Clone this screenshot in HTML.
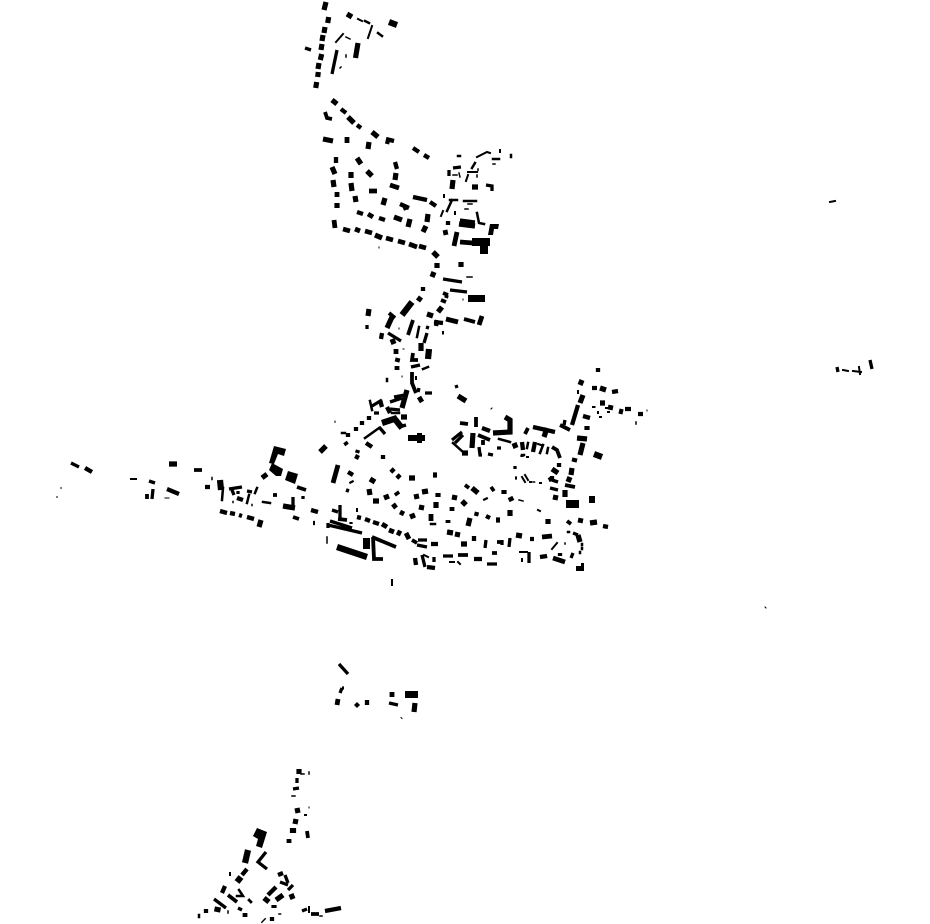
<!DOCTYPE html>
<html><head><meta charset="utf-8"><style>html,body{margin:0;padding:0;background:#fff;width:930px;height:924px;overflow:hidden}svg{display:block}path{fill:none;stroke:#000}.c{stroke-linecap:square}.f{fill:#000;stroke:none}</style></head><body>
<svg xmlns="http://www.w3.org/2000/svg" width="930" height="924" viewBox="0 0 930 924">
<path class="c" stroke-width="1" d="M61 487.500v1M57 496.500v1M765 607l1 1M165 498h4M401 717.500l1 1M335 421v1.500M492 408l-1 1M379 247v1M463 299v1M403 349h1M402 376v1M399 328v1M647 410v1M309 807v1"/>
<path class="c" stroke-width="1.500" d="M346 37L350 39M346 55v2M340 68l1-1M453 175L457 175M459 173L460 177M465 209L468 209M493 164h2M478 169v1.500M467 277L472 277M477 175v2M327 537L327 543M565 543v1M519 500L523 501M533 482h1.500M301 774L304 774M309 772v2M292 796L295 796M228 911v2M320 916h2M279 914h1.500M468 204l4 0M636 422v2M252 504.500v1M233 501.500v1M212 477.500v2"/>
<path class="c" stroke-width="2" d="M358 19L362 21M372 26L368 38M343 34L336 42M477 157L487 152L490 153M500 150v2M468 172L477 172M468 175L466 181M441 216L443 211M455 212v2M444 195v2M416 377L416 379M392 580L392 585M830 202L835 201M843 370L848 371M853 371L861 372M859 367L860 374M520 552L527 552M522 559v2M538 510L540 511M525 475L528 480M522 477L525 482M530 482h1M540 483h1M527 457h1M538 444L541 445M424 555L428 557M450 562L454 562M458 562L460 564M557 543L552 549M131 479L136 479M309 907L309 912M230 873v2M305 815l1 0M357 509v2M578 391v2M593 407h1.500M598 412v1M608 412h1M600 417h1M606 408h1.500M443 332v1.500"/>
<path class="c" stroke-width="2.500" d="M365 21L369 23M378 33L382 36M493 159L499 159M475 163L472 168M450 200L457 200M464 201L476 201M452 200L447 211M477 213L479 223L484 224M458 156l2 0M511 155v2M419 327L417 337M423 369L428 367M387 379L387 381M342 433h3M499 439L510 442M543 445L540 453M548 448L547 453M453 443L463 452M431 524L435 524M370 401L372 410M392 413L399 413M365 438L379 428M263 502L270 503M223 488L222 500M257 488L255 493M249 495L247 503M199 915v2M239 890L243 896L237 896M568 532h1M582 544v1M582 548v1M580 552v1M522 455h2M528 443L527 448"/>
<path stroke-width="3.300" d="M305 48L311 50M337 50L332 74M453 168L461 167M449 170L449 176M486 185L492 186L492 191M460 220L475 222M450 290L467 292M443 279L462 282M367 325L367 329M426 327L429 328M427 333L424 343M388 333L401 341M411 367L420 365M419 388L418 392M425 393L432 393M456 385L457 388M372 406L382 400M390 402L402 398M394 397L405 395M374 413L379 413M390 409L400 410M379 427L385 434M399 427L406 425M332 510L338 512M340 505L340 518M328 525L362 533M330 521L352 528M328 523L328 528M422 555L425 567M434 557L434 562M443 556L453 556M564 425L565 420M462 432L452 440M463 435L455 443M479 447L480 455L482 455M488 454L493 455M497 448L501 448M486 540L485 548M502 540L502 545M510 538L509 547M529 552L529 563M487 564L497 564M550 488L558 490M552 480L558 482M573 533L578 535M573 553L571 558M545 555L546 558M418 540L427 540M417 545L427 547M71 463L79 467M149 481L155 483M153 489L152 499M232 490L234 495M229 489L242 487M247 491L252 492M293 497L293 507M303 496v3M339 664L348 674M342 688L340 693M344 688l-2 0M389 703L398 705M297 778L297 783M293 789L299 788M266 852L258 862L267 869M214 899L226 908M238 908L242 910M285 875L288 883M280 882L288 885M293 885L288 890M307 909L302 911M837 367L838 372M870 360L872 369M351 522v2M238 491v3M515 466v3M515 478h2M522 455v2"/>
<path stroke-width="3.800" d="M325 112L327 118L332 119M443 293L448 295M447 295L446 298M441 300L446 302M464 319L475 322M413 320L408 335M389 313L395 318M413 353L412 360L418 360M412 372L412 383L416 393M476 417L476 427M460 423L468 424M478 435L490 440M483 440L483 445M528 428L525 434M346 490L349 491M338 519L347 520M372 537L396 547M373 537L374 559L383 559M412 540L417 543M458 555L468 555M560 425L570 430M565 485L575 487M567 521L571 524M465 485L469 488M497 542L501 542M492 553L497 553M552 447L557 450L560 458M194 470L202 470M273 495L277 495M297 487L306 490M293 517L299 519M147 494L147 499M228 895L237 902M307 831L308 838M311 914L319 914"/>
<path stroke-width="4.300" d="M341 109L346 113M357 125L361 128M386 139L394 141M388 140L387 144M413 148L419 152M424 155L429 158M336 157L336 163M395 162L397 169M400 204L409 208M404 205L406 210M413 197L427 200M430 202L436 206M357 212L363 214M379 218L385 220M448 221L448 225M423 287L423 291M434 322L443 323M437 320L436 326M382 333L381 339M387 407L390 413M380 400L382 407M366 443L372 447M358 450L357 453M358 455L356 459M383 455L383 459M348 472L353 475M362 421v4M369 416v4M356 427v4M348 433v4M345 442L347 445M357 517L361 518M365 519L370 521M373 522L379 524M431 544L438 544M474 559L482 559M415 558L416 565M427 567L435 568M598 368L598 372M592 388L597 388M612 392L618 391M578 405L572 425M583 416L590 418M625 409L631 409M638 414L643 414M482 428L490 431M522 442L523 450M533 427L555 432M559 463L559 467M477 512L476 516M474 536L474 541M486 516L490 518M530 539L534 539M603 526L608 527M540 557L547 556M552 476v4M560 553L560 556M85 468L92 472M167 489L179 494M205 487L210 487M220 511L227 513M230 513L235 514M239 515L242 516M247 517L254 519M237 498L243 500M311 510L318 512M313 523L315 523M367 700L367 705M355.500 703.500l3 3M247 869L242 875M225 886L222 893M206 909v4M272 917L272 921M278 875L283 873M276 887L268 895M325 911L341 908M535 442L533 452"/>
<path stroke-width="4.800" d="M369 191L377 191M390 185L399 188M347 137L347 143M337 192L337 197M334 220L335 228M343 229L350 231M355 229L360 231M365 231L372 233M386 238L393 240M398 241L405 243M409 244L417 247M419 246L426 248M368 214L373 217M445 230L446 235M457 232L454 246M460 242L473 243M446 319L458 322M482 316L479 325M396 349L396 354M398 358L397 362M397 366L397 370M338 465L333 483M351 481L352 483M391 469L394 472M397 475L400 478M393 504L396 508M400 512L404 514M431 514L431 521M382 524L387 527M389 530L394 532M406 533L409 539M452 507L452 511M448 520L448 523M542 537L552 536M578 520L583 521M608 407L613 408M289 839L289 843M338 699L337 705M392 692L392 697M245 913v4M419 397L422 402M553 558L565 562"/>
<path stroke-width="5.200" d="M326 2L324 10M328.700 17L327.700 23M325 27L324 33M323 35L322 41M322 44L321 50M321.700 54L320.300 60M319 63L318 69M318.300 72L317.700 77M316.700 82L315.700 88M347 14L352 17M355.500 58L358 43M332 100L337 104M348 117L354 123M372 132L378 137M369 142L368 149M323 139L333 141M332 167L335 174M351 172L351 178M357 158L361 164M367 171L372 176M396 173L395 180M333 180L334 187M351 183L352 191M355 196L356 202M337 203L337 208M385 198L383 205M394 217L402 220M410 219L408 227M428 214L427 222M426 226L423 232M375 235L382 238M433 252L438 257M453 180L452 189M472 187L478 187M459 224L475 226M437 263L437 268M434 272L432 277M421 297L418 301M461 262L461 267M442 307L438 312M369 309L368 316M427 314L433 316M392 317L387 328M392 339L394 344M421 343L421 351M458 396L466 401M407 390L402 408M401 417L407 417M370 479L375 482M369 489L370 495M373 501L379 501M384 498L389 496M396 492L398 495M409 478L415 478M433 475L437 475M414 497L419 496M422 492L428 491M438 493L438 497M436 502L436 508M422 505L421 510M410 517L415 515M320 452L326 446M397 532L401 534M455 495L454 500M462 501L466 505M472 488L478 493M485 498L486 500M491 490L494 488M504 490L504 494M510 497L512 501M470 518L468 526M496 520L500 520M510 510L510 516M447 532L453 533M458 532L457 537M461 544L467 544M516 535L522 536M548 519L548 524M590 523L597 522M505 417L510 420L510 432L493 433M462 453L468 453M473 433L472 448M514 443L516 448M552 469L558 473M550 477L552 481M556 495L555 500M547 428L544 437M582 380L580 385M600 388L606 390M600 403L605 403M583 395L580 403M587 426L587 430M577 438L587 439M583 443L580 455M575 458L574 462M572 468L571 475M570 477L568 482M565 490L565 497M578 535L580 542M619 411L623 412M169 464L177 464M283 506L295 508M261 520L259 527M415 703L414 712M299 769L299 774M297 808L298 813M296 819L295 824M249 902L251 900M276 900L283 895M291 894L293 899M264 898L269 902M274 905L274 908"/>
<path stroke-width="6.200" d="M389 22L397 25M402 315L412 302M594 454L602 457M337 547L367 557M429 349L428 359M382 423L397 418M394 418L402 428M220 480L221 490M263 474L266 478M248 850L245 863M241 877L237 882M218 907L217 912M263 920L264 921M293 828L293 833"/>
<rect class="f" x="472" y="238" width="18" height="8"/>
<rect class="f" x="480" y="246" width="8" height="8"/>
<rect class="f" x="468" y="295" width="17" height="7"/>
<rect class="f" x="408" y="435" width="17" height="6"/>
<rect class="f" x="417" y="433" width="5" height="10"/>
<rect class="f" x="363" y="538" width="7" height="11"/>
<rect class="f" x="566" y="500" width="13" height="8"/>
<rect class="f" x="589" y="496" width="6" height="7"/>
<rect class="f" x="576" y="566" width="8" height="5"/>
<rect class="f" x="581" y="563" width="3" height="4"/>
<rect class="f" x="405" y="691" width="13" height="7"/>
<polygon class="f" points="490,224 499,224 498,229 494,229 493,235 488,235"/>
<polygon class="f" points="274,446 286,449 284,456 278,454 274,464 269,463"/>
<polygon class="f" points="272,463 283,469 281,476 276,476 269,470"/>
<polygon class="f" points="288,471 298,474 295,484 285,480"/>
<polygon class="f" points="257,828 267,832 262,848 256,846 258,839 253,836"/>
</svg>
</body></html>
